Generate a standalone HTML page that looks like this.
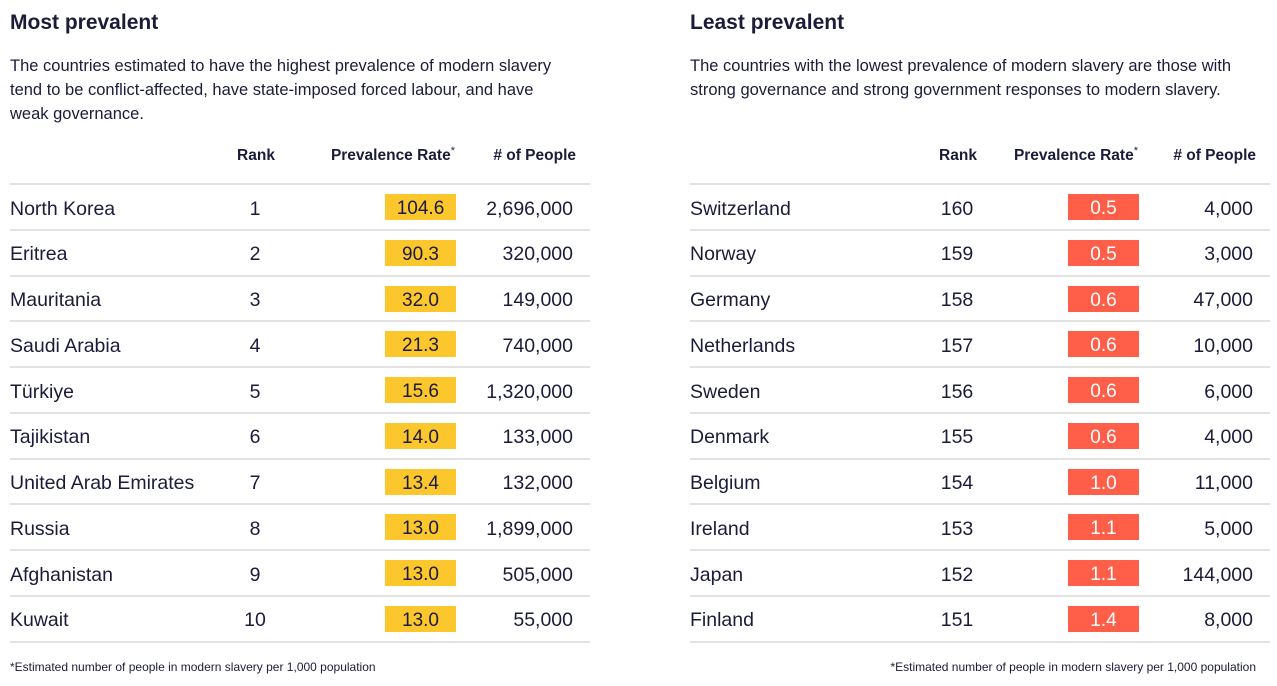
<!DOCTYPE html><html><head><style>
body{margin:0;width:1277px;height:686px;background:#fff;font-family:"Liberation Sans",sans-serif;color:#1b1b3a;position:relative;overflow:hidden}
div{position:absolute;white-space:nowrap}
.t{font-size:21px;font-weight:bold;top:11px}
.d{font-size:16.5px;line-height:24px;top:54px;white-space:normal}
.h{font-size:15.5px;font-weight:bold;top:147px}
.h sup{font-size:11px;font-weight:normal;position:relative;top:-2px;vertical-align:top}
.l{height:2px;background:#e2e2e2}
.c{font-size:19.5px;line-height:26px}
.b{width:71px;height:24px;padding-top:2px;text-align:center;font-size:19px;line-height:26px}
.f{font-size:12px;top:660px}
</style></head><body>
<div class="t" style="left:10px">Most prevalent</div>
<div class="t" style="left:690px">Least prevalent</div>
<div class="d" style="left:10px;width:555px">The countries estimated to have the highest prevalence of modern slavery tend to be conflict-affected, have state-imposed forced labour, and have weak governance.</div>
<div class="d" style="left:690px;width:575px">The countries with the lowest prevalence of modern slavery are those with strong governance and strong government responses to modern slavery.</div>
<div class="h" style="left:216px;width:80px;text-align:center">Rank</div>
<div class="h" style="right:822px">Prevalence Rate<sup>*</sup></div>
<div class="h" style="right:701px">#&nbsp;of People</div>
<div class="h" style="left:918px;width:80px;text-align:center">Rank</div>
<div class="h" style="right:139px">Prevalence Rate<sup>*</sup></div>
<div class="h" style="right:21px">#&nbsp;of People</div>
<div id="rows"></div>
<div class="f" style="left:10px">*Estimated number of people in modern slavery per 1,000 population</div>
<div class="f" style="right:21px">*Estimated number of people in modern slavery per 1,000 population</div>
<script>
var L=[["North Korea",1,"104.6","2,696,000"],["Eritrea",2,"90.3","320,000"],["Mauritania",3,"32.0","149,000"],["Saudi Arabia",4,"21.3","740,000"],["Türkiye",5,"15.6","1,320,000"],["Tajikistan",6,"14.0","133,000"],["United Arab Emirates",7,"13.4","132,000"],["Russia",8,"13.0","1,899,000"],["Afghanistan",9,"13.0","505,000"],["Kuwait",10,"13.0","55,000"]];
var R=[["Switzerland",160,"0.5","4,000"],["Norway",159,"0.5","3,000"],["Germany",158,"0.6","47,000"],["Netherlands",157,"0.6","10,000"],["Sweden",156,"0.6","6,000"],["Denmark",155,"0.6","4,000"],["Belgium",154,"1.0","11,000"],["Ireland",153,"1.1","5,000"],["Japan",152,"1.1","144,000"],["Finland",151,"1.4","8,000"]];
var h="";
function tab(D,x,rc,bx,pr,bg,fg){for(var i=0;i<=10;i++){h+='<div class="l" style="left:'+x+'px;width:580px;top:'+(183+i*45.75)+'px"></div>';}
D.forEach(function(r,i){var y=194+i*45.75,t=y+1.5;
h+='<div class="c" style="left:'+x+'px;top:'+t+'px">'+r[0]+'</div>';
h+='<div class="c" style="left:'+(rc-40)+'px;width:80px;text-align:center;top:'+t+'px">'+r[1]+'</div>';
h+='<div class="b" style="left:'+bx+'px;top:'+y+'px;background:'+bg+';color:'+fg+'">'+r[2]+'</div>';
h+='<div class="c" style="right:'+pr+'px;top:'+t+'px">'+r[3]+'</div>';});}
tab(L,10,255,385,704,"#fcc72c","#1b1b3a");
tab(R,690,957,1068,24,"#ff5e49","#fff");
document.getElementById("rows").outerHTML=h;
</script>
</body></html>
